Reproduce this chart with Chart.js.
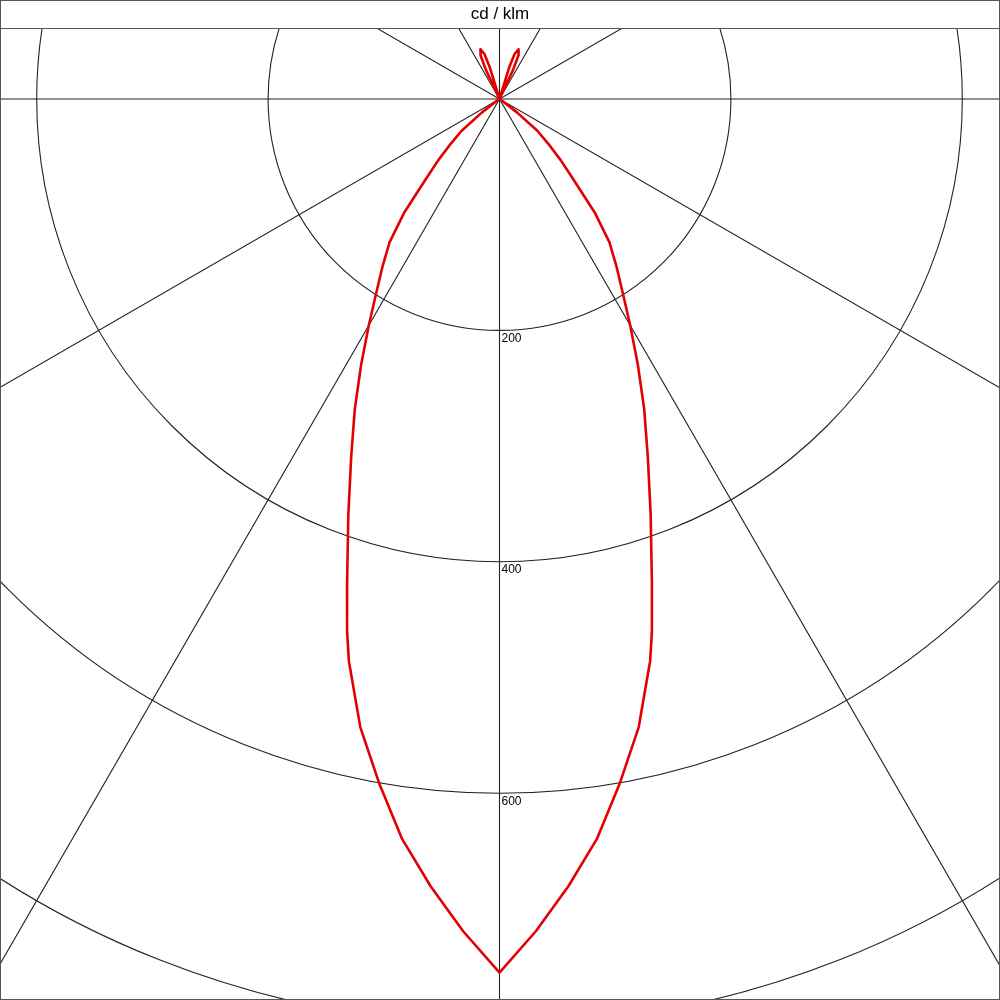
<!DOCTYPE html>
<html>
<head>
<meta charset="utf-8">
<script src="https://cdn.jsdelivr.net/npm/chart.js@4/dist/chart.umd.min.js"></script>
<style>
html,body{margin:0;padding:0;background:#fff;}
#wrap{width:1000px;height:1000px;}
</style>
</head>
<body>
<div id="wrap"><canvas id="c" width="1000" height="1000"></canvas></div>
<script>
// Polar luminous intensity (cd/klm), symmetric C0 / C180 half-planes
const titleText = "cd / klm";
const gammaAngles = [0,2.5,5,7.5,10,12.5,15,16,17.5,20,22.5,25,27.5,30,32.5,35,37.5,40,42.5,45,47.5,50,52.5,55,57.5,90,120,150,154,155,156.5,159,161.5,163,164,180];
const intensityC0 = [755,720,683,645,600,556,503,478,438,382,335,296,259,226,198,176,156,128,95,75,57,43,19,3,0,0,0,0,0,28,41,46,41,28,0,0];
const intensityC180 = [755,720,683,645,600,556,503,478,438,382,335,296,259,226,198,176,156,128,95,75,57,43,19,3,0,0,0,0,0,28,41,46,41,28,0,0];
const ringValues = [200,400,600,800];
const ringLabels = ["200","400","600"];
const spokeAngles = [0,30,60,90,120,150];

const rad = d => d*Math.PI/180;
const pts = [];
for (let i=0;i<gammaAngles.length;i++){
  const a=rad(gammaAngles[i]), r=intensityC0[i];
  pts.push({x:r*Math.sin(a), y:r*Math.cos(a)});
}
for (let i=gammaAngles.length-1;i>=0;i--){
  const a=rad(gammaAngles[i]), r=intensityC180[i];
  pts.push({x:-r*Math.sin(a), y:r*Math.cos(a)});
}

const pxPerUnit = 1.157;
const centerPxX = 499.5, centerPxY = 99, plotTopPx = 28;
const xMin = -centerPxX/pxPerUnit, xMax = (1000-centerPxX)/pxPerUnit;
const yMin = -(centerPxY-plotTopPx)/pxPerUnit, yMax = (1000-centerPxY)/pxPerUnit;

const gridPlugin = {
  id:'polarGrid',
  beforeDatasetsDraw(chart){
    const {ctx, chartArea, scales:{x,y}} = chart;
    const ox = x.getPixelForValue(0), oy = y.getPixelForValue(0);
    const ppu = Math.abs(x.getPixelForValue(100)-ox)/100;
    ctx.save();
    ctx.beginPath();
    ctx.rect(chartArea.left, chartArea.top, chartArea.right-chartArea.left, chartArea.bottom-chartArea.top);
    ctx.clip();
    ctx.strokeStyle = '#222';
    ctx.lineWidth = 1.1;
    ringValues.forEach(v=>{
      ctx.beginPath();
      ctx.arc(ox, oy, v*ppu, 0, Math.PI*2);
      ctx.stroke();
    });
    const L = 2000;
    spokeAngles.forEach(d=>{
      const a = rad(d);
      const dx = Math.sin(a)*L, dy = Math.cos(a)*L;
      ctx.beginPath();
      ctx.moveTo(ox-dx, oy-dy);
      ctx.lineTo(ox+dx, oy+dy);
      ctx.stroke();
    });
    ctx.fillStyle = '#000';
    ctx.font = '12px "Liberation Sans", Arial, sans-serif';
    ctx.textBaseline = 'top';
    ctx.textAlign = 'left';
    ringLabels.forEach((t,i)=>{
      ctx.fillText(t, ox+2, y.getPixelForValue(ringValues[i])+2);
    });
    ctx.restore();
  },
  afterDraw(chart){
    const {ctx, chartArea} = chart;
    ctx.save();
    ctx.strokeStyle = '#555';
    ctx.lineWidth = 1;
    ctx.strokeRect(0.5,0.5,chart.width-1,chart.height-1);
    ctx.beginPath();
    ctx.moveTo(0, chartArea.top+0.5);
    ctx.lineTo(chart.width, chartArea.top+0.5);
    ctx.stroke();
    ctx.restore();
  }
};

new Chart(document.getElementById('c'), {
  type:'scatter',
  data:{datasets:[{
    data:pts,
    showLine:true,
    borderColor:'rgb(228,0,0)',
    borderWidth:2.6,
    borderJoinStyle:'round',
    pointRadius:0,
    tension:0,
    fill:false
  }]},
  options:{
    responsive:false,
    animation:false,
    devicePixelRatio:1,
    layout:{padding:0},
    plugins:{
      legend:{display:false},
      tooltip:{enabled:false},
      title:{display:true,text:titleText,color:'#000',
        font:{family:'"Liberation Sans", Arial, sans-serif',size:17,weight:'normal',lineHeight:1.2},
        padding:{top:4,bottom:3.6}}
    },
    scales:{
      x:{type:'linear',min:xMin,max:xMax,display:false},
      y:{type:'linear',min:yMin,max:yMax,reverse:true,display:false}
    }
  },
  plugins:[gridPlugin]
});
</script>
</body>
</html>
